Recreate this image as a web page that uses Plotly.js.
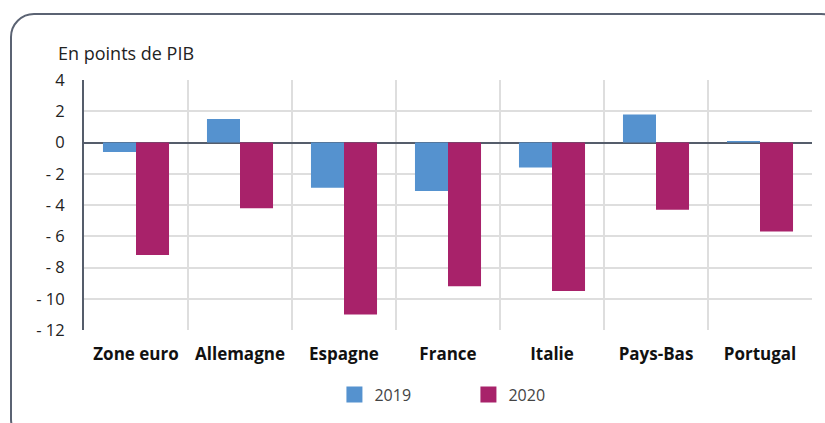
<!DOCTYPE html>
<html><head><meta charset="utf-8">
<script src="https://cdn.plot.ly/plotly-3.0.1.min.js"></script>
<style>
html,body{margin:0;padding:0;background:#fff;}
#wrap{position:relative;width:825px;height:423px;overflow:hidden;}
#frame{position:absolute;left:10px;top:13px;width:835px;height:430px;border:2px solid #5b6373;border-radius:24px;box-sizing:border-box;}
#chart{position:absolute;left:0;top:0;width:825px;height:423px;}
</style></head>
<body><div id="wrap"><div id="frame"></div><div id="chart"></div></div>
<script>
const categories = ["Zone euro","Allemagne","Espagne","France","Italie","Pays-Bas","Portugal"];
const values2019 = [-0.6, 1.5, -2.9, -3.1, -1.6, 1.8, 0.1];
const values2020 = [-7.2, -4.2, -11.0, -9.2, -9.5, -4.3, -5.7];
const seriesNames = ["2019","2020"];
const seriesColors = ["#5592cf","#a8226a"];
const yTickVals = [4,2,0,-2,-4,-6,-8,-10,-12];
const yTickText = ["4","2","0","- 2","- 4","- 6","- 8","- 10","- 12"];
const titleText = "En points de PIB";

const font = "Open Sans, Noto Sans, sans-serif";
const seriesValues = [values2019, values2020];
const traces = [];
seriesNames.forEach((n,i)=>{
  traces.push({type:"bar", name:n, x:categories, y:seriesValues[i], legendgroup:n, showlegend:false,
               marker:{color:seriesColors[i]}});
});
// legend entries (square markers)
seriesNames.forEach((n,i)=>{
  traces.push({type:"scatter", mode:"markers", name:n, legendgroup:n, x:[categories[0]], y:[null],
               marker:{symbol:"square", size:17, color:seriesColors[i]}, hoverinfo:"skip"});
});
const layout = {
  width:825, height:423,
  margin:{l:84, r:13, t:80, b:93},
  paper_bgcolor:"rgba(0,0,0,0)", plot_bgcolor:"rgba(0,0,0,0)",
  barmode:"group", bargap:0.365, bargroupgap:0,
  font:{family:font, size:16, color:"#222"},
  showlegend:true,
  legend:{orientation:"h", x:0.344, xanchor:"left", y:-0.19, yanchor:"top",
          font:{size:16, color:"#444"}, itemwidth:30, entrywidth:89, traceorder:"normal",
          itemsizing:"trace"},
  xaxis:{type:"category", tickson:"boundaries", showgrid:true, gridcolor:"#dedede", gridwidth:2,
         ticks:"", tickfont:{size:17, color:"#111", weight:700}, showline:false, zeroline:false,
         ticklabelstandoff:12, fixedrange:true},
  yaxis:{range:[-12,4], tickvals:yTickVals, ticktext:yTickText, showgrid:true, gridcolor:"#dedede", gridwidth:2,
         zeroline:true, zerolinecolor:"#555d6b", zerolinewidth:2,
         showline:true, linecolor:"#555d6b", linewidth:2, ticks:"", ticklabelstandoff:14,
         tickfont:{size:16.5, color:"#222"}},
  annotations:[{text:titleText, xref:"paper", yref:"paper", x:-0.038, y:1.106, xanchor:"left", yanchor:"middle",
                showarrow:false, font:{size:18, color:"#222"}}]
};
Plotly.newPlot("chart", traces, layout, {displayModeBar:false, staticPlot:true});
</script></body></html>
